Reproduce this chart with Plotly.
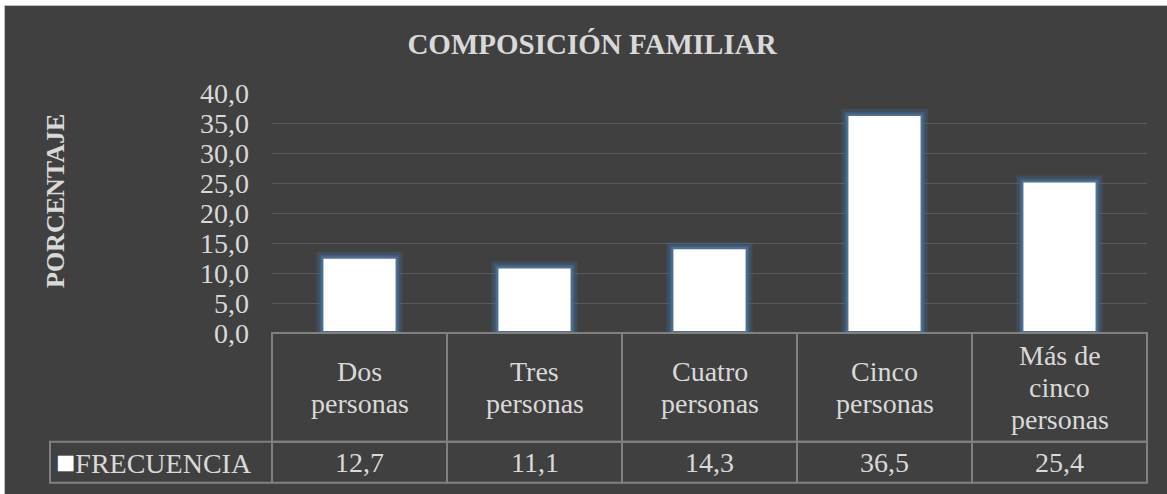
import textwrap
import plotly.graph_objects as go

# data
categories = ["Dos personas", "Tres personas", "Cuatro personas", "Cinco personas", "Más de cinco personas"]
frecuencia = [12.7, 11.1, 14.3, 36.5, 25.4]
series_name = "FRECUENCIA"
y_ticks = [0, 5, 10, 15, 20, 25, 30, 35, 40]

BG = "#404040"
TXT = "#d9d9d9"
GRID = "#595959"
BORDER = "#808080"
GLOW_IN = "rgba(62,95,130,0.9)"
GLOW_OUT = "rgba(70,110,150,0.3)"
FONT = "Times New Roman, Liberation Serif, Tinos, serif"
FS = 28  # table / tick text size

W, H = 1167, 494
L, R, T, B = 272, 20, 93, 161
PLOT_W = W - L - R
PLOT_H = H - T - B


def py(pixel):
    # pixel row -> paper y
    return (H - B - pixel) / PLOT_H


def px(pixel):
    # pixel column -> paper x
    return (pixel - L) / PLOT_W


def fmt(v):
    return f"{v:.1f}".replace(".", ",")


# table rows (pixel rows)
ROW_TOP, ROW_MID, ROW_BOT = H - B, 441.7, 482.7
LINE_GAP = 32
n = len(categories)

fig = go.Figure()
# soft outer glow, then the white bars on top
fig.add_trace(go.Bar(
    x=categories, y=frecuencia, width=0.435,
    marker=dict(color="white", line=dict(color=GLOW_OUT, width=10)),
    showlegend=False, hoverinfo="skip",
))
fig.add_trace(go.Bar(
    x=categories, y=frecuencia, name=series_name, width=0.435,
    marker=dict(color="white", line=dict(color=GLOW_IN, width=4)),
    showlegend=False, hoverinfo="x+y",
))

shapes = [
    # dark chart area with thin frame
    dict(type="rect", xref="paper", yref="paper", x0=px(4.5), x1=px(W + 10), y0=py(H + 10), y1=py(5.5),
         fillcolor=BG, line=dict(color="#bfbfbf", width=1), layer="below"),
    # legend cell of the data table
    dict(type="rect", xref="paper", yref="paper", x0=px(50), x1=0, y0=py(ROW_BOT), y1=py(ROW_MID),
         line=dict(color=BORDER, width=2)),
]
annotations = []
for i, (cat, val) in enumerate(zip(categories, frecuencia)):
    for y0, y1 in [(ROW_MID, ROW_TOP), (ROW_BOT, ROW_MID)]:
        shapes.append(dict(type="rect", xref="x domain", yref="paper", x0=i / n, x1=(i + 1) / n,
                           y0=py(y0), y1=py(y1), line=dict(color=BORDER, width=2)))
    lines = textwrap.wrap(cat, 8)
    mid = (ROW_TOP + ROW_MID) / 2
    for j, line in enumerate(lines):
        annotations.append(dict(x=cat, xref="x", y=py(mid + (j - (len(lines) - 1) / 2) * LINE_GAP),
                                yref="paper", text=line, showarrow=False,
                                xanchor="center", yanchor="middle", font=dict(size=FS, color=TXT)))
    annotations.append(dict(x=cat, xref="x", y=py((ROW_MID + ROW_BOT) / 2), yref="paper",
                            text=fmt(val), showarrow=False,
                            xanchor="center", yanchor="middle", font=dict(size=FS, color=TXT)))

annotations.append(dict(x=px(54), xref="paper", y=py((ROW_MID + ROW_BOT) / 2), yref="paper",
                        text='<span style="color:white;font-size:32px">■</span>' + series_name,
                        showarrow=False, xanchor="left", yanchor="middle",
                        font=dict(size=FS, color=TXT)))
annotations.append(dict(x=px(55), xref="paper", y=py(201), yref="paper",
                        text="<b>PORCENTAJE</b>", textangle=-90, showarrow=False,
                        xanchor="center", yanchor="middle", font=dict(size=26, color=TXT)))

fig.update_layout(
    width=W, height=H,
    margin=dict(l=L, r=R, t=T, b=B),
    paper_bgcolor="white", plot_bgcolor=BG,
    font=dict(family=FONT, color=TXT),
    separators=",.",
    barmode="overlay",
    title=dict(text="<b>COMPOSICIÓN FAMILIAR</b>", x=592 / W, xanchor="center",
               y=1 - 44 / H, yanchor="middle", font=dict(size=29, color=TXT)),
    shapes=shapes, annotations=annotations,
)
fig.update_xaxes(showticklabels=False, showgrid=False, zeroline=False, showline=False)
fig.update_yaxes(range=[0, 40], tickvals=y_ticks, tickformat=".1f", gridcolor=GRID, gridwidth=1,
                 zeroline=False, showline=False, tickfont=dict(size=FS, color=TXT),
                 ticklabelstandoff=22)

fig.write_html("out.html", config={"displayModeBar": False},
               post_script="document.body.style.margin='0';")
